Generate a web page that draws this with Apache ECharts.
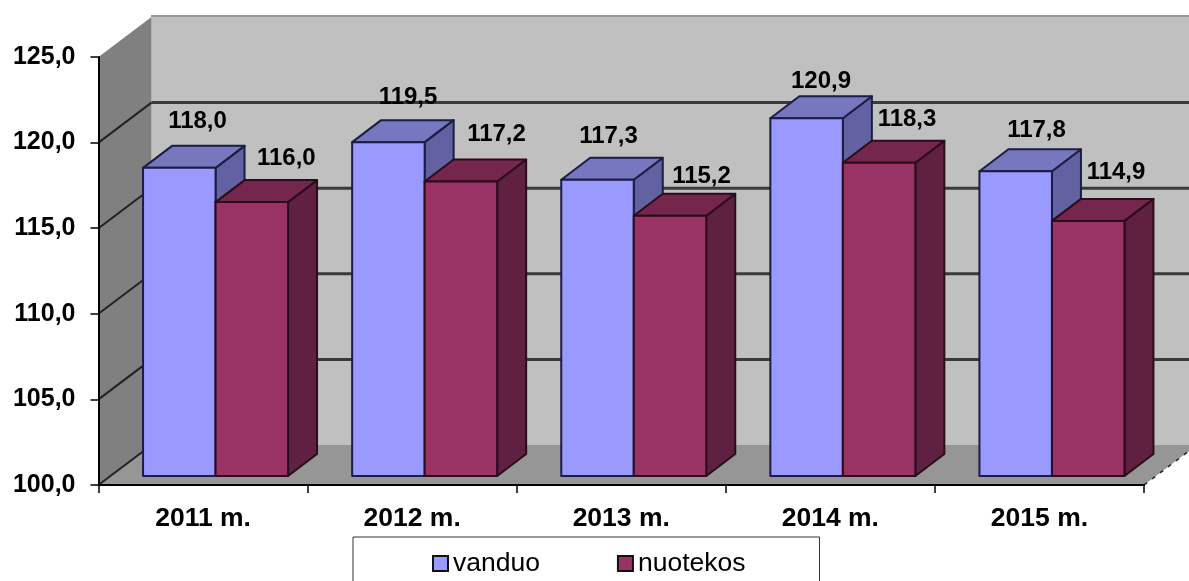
<!DOCTYPE html>
<html><head><meta charset="utf-8">
<style>html,body{margin:0;padding:0;background:#fff}#c{width:1189px;height:581px}</style>
<script src="https://cdn.jsdelivr.net/npm/echarts@6/dist/echarts.min.js"></script>
</head><body><div id="c"></div>
<script>
const categories = ['2011 m.', '2012 m.', '2013 m.', '2014 m.', '2015 m.'];
const vanduo = [118.0, 119.5, 117.3, 120.9, 117.8];
const nuotekos = [116.0, 117.2, 115.2, 118.3, 114.9];
const yTicks = [100, 105, 110, 115, 120, 125];

// presentation constants (not data)
const FONT = '"Liberation Sans", Arial, sans-serif';
const WALL = { dx: 53, dy: -40 };      // depth of the chart box
const PLANE = { dx: 12.5, dy: -9 };    // plane of the bar fronts
const BAR = { w: 72.5, dx: 29, dy: -22 };
const vanduoNudge = [[18.2, -46.3], [19.6, -44.7], [11, -43.3], [14.4, -36.7], [20.8, -40.5]];
const nuotekosNudge = [[34.5, -43.6], [35.6, -47], [31.5, -39.3], [27.9, -43.5], [27.8, -48.4]];
const fmt = v => v.toFixed(1).replace('.', ',');

function poly(pts, fill, stroke, lw) {
  return { type: 'polygon', shape: { points: pts },
    style: { fill, stroke: stroke || null, lineWidth: lw || 0, lineJoin: 'round' } };
}
function line(a, b, stroke, lw, dash) {
  return { type: 'line', shape: { x1: a[0], y1: a[1], x2: b[0], y2: b[1] },
    style: { stroke, lineWidth: lw, lineDash: dash || null } };
}
function wallsRender(params, api) {
  const lo = api.coord([0, yTicks[0]]);
  const hi = api.coord([0, yTicks[yTicks.length - 1]]);
  const bandW = api.size([1, 0])[0];
  const x0 = lo[0] - bandW / 2, x1 = x0 + bandW * categories.length;
  const yB = lo[1], yT = hi[1];
  const d = WALL;
  const kids = [
    poly([[x0 + d.dx, yT + d.dy], [x1 + d.dx, yT + d.dy], [x1 + d.dx, yB + d.dy], [x0 + d.dx, yB + d.dy]], '#c0c0c0'),
    poly([[x0, yT], [x0 + d.dx, yT + d.dy], [x0 + d.dx, yB + d.dy], [x0, yB]], '#808080'),
    poly([[x0, yB], [x0 + d.dx, yB + d.dy], [x1 + d.dx, yB + d.dy], [x1, yB]], '#969696'),
    line([x0 + d.dx, yT + d.dy - 1], [x1 + d.dx, yT + d.dy - 1], '#333', 2, [1, 1]),
    line([x1, yB], [x1 + d.dx, yB + d.dy], '#222', 1.5, [4, 6])
  ];
  yTicks.forEach(t => {
    const y = api.coord([0, t])[1];
    if (t !== yTicks[yTicks.length - 1]) {
      kids.push(line([x0, y], [x0 + d.dx, y + d.dy], '#222', 2));
      if (t !== yTicks[0]) kids.push(line([x0 + d.dx, y + d.dy], [x1 + d.dx, y + d.dy], '#3a3a3a', 3));
    }
  });
  return { type: 'group', children: kids };
}
function barRender(slot, colors, nudge) {
  return function (params, api) {
    const i = api.value(0), v = api.value(1);
    const top = api.coord([i, v]), base = api.coord([i, yTicks[0]]);
    const cx = top[0] + PLANE.dx + (slot === 0 ? -BAR.w : 0);
    const yT = top[1] + PLANE.dy, yB = base[1] + PLANE.dy;
    const xR = cx + BAR.w, dx = BAR.dx, dy = BAR.dy;
    const n = nudge[params.dataIndex];
    return { type: 'group', children: [
      poly([[xR, yT], [xR + dx, yT + dy], [xR + dx, yB + dy], [xR, yB]], colors.side, colors.edge, 2),
      poly([[cx, yT], [cx + dx, yT + dy], [xR + dx, yT + dy], [xR, yT]], colors.top, colors.edge, 2),
      poly([[cx, yT], [xR, yT], [xR, yB], [cx, yB]], colors.front, colors.edge, 2),
      { type: 'text', z2: 50, style: { text: fmt(v), x: cx + BAR.w / 2 + n[0], y: yT + n[1],
        align: 'center', verticalAlign: 'middle', fill: '#000', font: 'bold 24px ' + FONT } }
    ] };
  };
}
const blue = { front: '#9999ff', top: '#7777c0', side: '#6262a2', edge: '#1c1c44' };
const maroon = { front: '#993366', top: '#75264c', side: '#602040', edge: '#2a0c1c' };

const chart = echarts.init(document.getElementById('c'), null, { renderer: 'canvas' });
chart.setOption({
  animation: false,
  backgroundColor: '#fff',
  grid: { left: 98.5, top: 57, width: 1045.5, height: 428 },
  xAxis: { type: 'category', data: categories, z: 10,
    axisLine: { lineStyle: { color: '#000', width: 2 } },
    axisTick: { show: true, alignWithLabel: false, length: 8, lineStyle: { color: '#000', width: 1.5 } },
    axisLabel: { color: '#000', fontFamily: FONT, fontWeight: 'bold', fontSize: 26.5, margin: 20, interval: 0 },
    splitLine: { show: false } },
  yAxis: { type: 'value', min: yTicks[0], max: yTicks[yTicks.length - 1], interval: 5, z: 10,
    axisLine: { show: true, lineStyle: { color: '#000', width: 2 } },
    axisTick: { show: true, length: 8, lineStyle: { color: '#000', width: 1.5 } },
    axisLabel: { color: '#000', fontFamily: FONT, fontWeight: 'bold', fontSize: 25, margin: 23,
      padding: [3, 0, 0, 0], formatter: v => fmt(v) },
    splitLine: { show: false } },
  legend: { left: 353, top: 537, orient: 'horizontal', padding: [13, 74, 40, 79], itemGap: 77,
    itemWidth: 15, itemHeight: 15, borderColor: '#333', borderWidth: 1, selectedMode: false,
    textStyle: { color: '#000', fontFamily: FONT, fontSize: 26.5 },
    data: [
      { name: 'vanduo', icon: 'rect', itemStyle: { color: blue.front, borderColor: '#111', borderWidth: 2 } },
      { name: 'nuotekos', icon: 'rect', itemStyle: { color: maroon.front, borderColor: '#111', borderWidth: 2 } }
    ] },
  series: [
    { type: 'custom', name: 'walls', silent: true, clip: false, z: 1, renderItem: wallsRender,
      data: [[0, yTicks[0]]], encode: { x: 0, y: 1 } },
    { type: 'custom', name: 'vanduo', clip: false, z: 2, renderItem: barRender(0, blue, vanduoNudge),
      itemStyle: { color: blue.front },
      data: vanduo.map((v, i) => [i, v]), encode: { x: 0, y: 1 } },
    { type: 'custom', name: 'nuotekos', clip: false, z: 3, renderItem: barRender(1, maroon, nuotekosNudge),
      itemStyle: { color: maroon.front },
      data: nuotekos.map((v, i) => [i, v]), encode: { x: 0, y: 1 } }
  ]
});
</script></body></html>
